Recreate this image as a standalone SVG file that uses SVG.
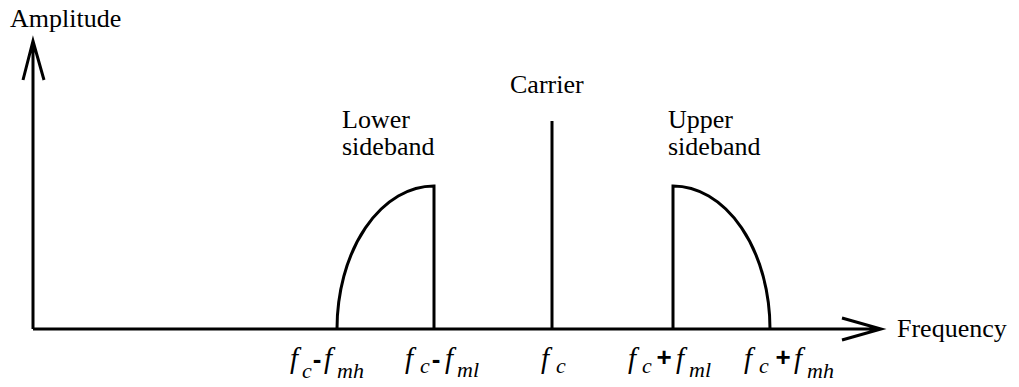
<svg xmlns="http://www.w3.org/2000/svg" width="1019" height="387" viewBox="0 0 1019 387">
<style>
.ln{fill:none;stroke:#000;stroke-width:3;stroke-linejoin:miter}
.t{font-family:'Liberation Serif','DejaVu Serif','Noto Serif',serif;font-size:26px;fill:#000}
.f{font-family:'Liberation Serif','DejaVu Serif','Noto Serif',serif;font-style:italic;font-size:29px;fill:#000}
.s{font-family:'Liberation Serif','DejaVu Serif','Noto Serif',serif;font-style:italic;font-size:22px;fill:#000}
.o{font-family:'Liberation Sans',Arial,sans-serif;font-weight:bold;font-size:26px;fill:#000;text-anchor:middle}
</style>
<rect width="1019" height="387" fill="#fff"/>
<g id="connectors">
<path class="ln" d="M33,329 V41 M23,80 L33,41 L44,80"/>
<path class="ln" d="M33,329 H881 M842,318 L881,329 L842,340"/>
</g>
<g id="lower-sideband">
<path class="ln" d="M337,329 A97,143 0 0 1 434,186 V329"/>
<text class="t" x="342" y="128">Lower</text>
<text class="t" x="342" y="155">sideband</text>
</g>
<g id="carrier">
<path class="ln" d="M552,121 V329"/>
<text class="t" x="510" y="93">Carrier</text>
</g>
<g id="upper-sideband">
<path class="ln" d="M673,329 V186 A97,143 0 0 1 770,329"/>
<text class="t" x="668" y="128">Upper</text>
<text class="t" x="668" y="155">sideband</text>
</g>
<g id="axis-labels">
<text class="t" x="10" y="27">Amplitude</text>
<text class="t" x="897" y="337">Frequency</text>
</g>
<g id="freq-labels">
<text class="f" x="290" y="368">f</text><text class="s" x="302" y="378">c</text><text class="o" x="317" y="368">-</text><text class="f" x="324" y="368">f</text><text class="s" x="337" y="378">mh</text>
<text class="f" x="405" y="368">f</text><text class="s" x="420" y="373">c</text><text class="o" x="436" y="368">-</text><text class="f" x="445" y="368">f</text><text class="s" x="457" y="377">ml</text>
<text class="f" x="541" y="368">f</text><text class="s" x="556" y="373">c</text>
<text class="f" x="628" y="368">f</text><text class="s" x="642" y="373">c</text><text class="o" x="664" y="366">+</text><text class="f" x="676" y="368">f</text><text class="s" x="689" y="377">ml</text>
<text class="f" x="744" y="368">f</text><text class="s" x="759" y="373">c</text><text class="o" x="783" y="366">+</text><text class="f" x="794" y="368">f</text><text class="s" x="807" y="378">mh</text>
</g>
</svg>
